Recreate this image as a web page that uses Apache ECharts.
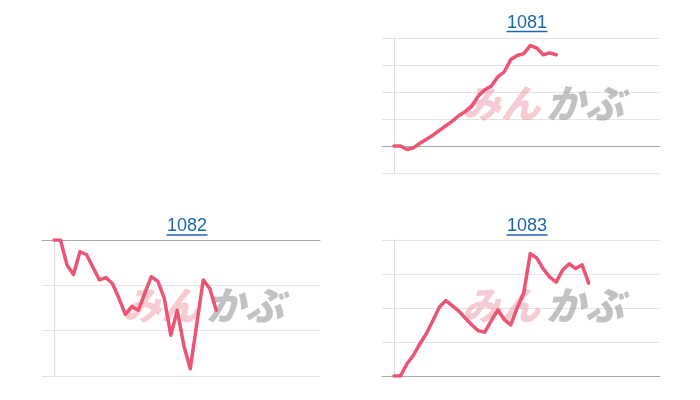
<!DOCTYPE html>
<html>
<head>
<meta charset="utf-8">
<script src="https://cdn.jsdelivr.net/npm/echarts@6/dist/echarts.min.js"></script>
<style>
html,body{margin:0;padding:0;background:#fff;}
#c{width:700px;height:400px;}
</style>
</head>
<body>
<div id="c"></div>
<script>
// Chart titles
const titles = ['1081', '1082', '1083'];
// Series values (percent change, one point per time slot)
const s1081 = [0, 0, -0.13, -0.07, 0.1, 0.25, 0.4, 0.58, 0.75, 0.92, 1.13, 1.28, 1.48, 1.85, 2.08, 2.22, 2.56, 2.75, 3.2, 3.35, 3.42, 3.72, 3.63, 3.38, 3.45, 3.38];
const s1082 = [0, 0, -0.55, -0.76, -0.26, -0.32, -0.6, -0.88, -0.83, -0.96, -1.28, -1.64, -1.47, -1.55, -1.17, -0.81, -0.91, -1.29, -2.1, -1.55, -2.32, -2.84, -1.86, -0.88, -1.07, -1.55];
const s1083 = [0, 0, 0.36, 0.61, 0.95, 1.25, 1.63, 2.03, 2.22, 2.06, 1.91, 1.7, 1.5, 1.33, 1.29, 1.63, 1.94, 1.66, 1.5, 2.01, 2.44, 3.6, 3.47, 3.15, 2.91, 2.76, 3.12, 3.3, 3.16, 3.27, 2.73];
// y-axis ranges
const yRanges = [{min: -1, max: 4}, {min: -3, max: 0}, {min: 0, max: 4}];
const slots = 41; // time slots across the x axis

const grids = [
  {left: 382, top: 38, width: 278, height: 135},
  {left: 42, top: 240, width: 278, height: 136},
  {left: 382, top: 240, width: 278, height: 136}
];
const seriesData = [s1081, s1082, s1083];
const lineColor = '#ec5473';

const chart = echarts.init(document.getElementById('c'));
const xAxes = [], yAxes = [], series = [], graphics = [];
grids.forEach((g, i) => {
  xAxes.push({
    gridIndex: i, type: 'value', min: -1.85, max: slots,
    axisLine: {show: true, onZero: true, lineStyle: {color: '#a9a9a9', width: 1}},
    axisTick: {show: false}, axisLabel: {show: false}, splitLine: {show: false}
  });
  yAxes.push({
    gridIndex: i, type: 'value', min: yRanges[i].min, max: yRanges[i].max, interval: 1,
    axisLine: {show: true, onZero: true, lineStyle: {color: '#dedede', width: 1}},
    axisTick: {show: false}, axisLabel: {show: false},
    splitLine: {show: true, lineStyle: {color: '#e4e4e4', width: 1}}
  });
  series.push({
    type: 'line', xAxisIndex: i, yAxisIndex: i, z: 5,
    data: seriesData[i].map((v, k) => [k, v]),
    showSymbol: false, symbol: 'none',
    lineStyle: {color: lineColor, width: 3.5, cap: 'round', join: 'round'}
  });
  // title + underline
  const cx = g.left + 12 + (g.width - 12) / 2;
  const ty = i === 0 ? 23 : 226.5;
  const uy = i === 0 ? 31.5 : 235;
  graphics.push({
    type: 'text', x: cx, y: ty, z: 10,
    style: {text: titles[i], fill: '#1d66ad', font: '18px "Liberation Sans", Arial, sans-serif', textAlign: 'center', textVerticalAlign: 'middle'}
  });
  graphics.push({
    type: 'line', z: 10,
    shape: {x1: cx - 20.5, y1: uy, x2: cx + 20.5, y2: uy},
    style: {stroke: '#1d66ad', lineWidth: 1.5}
  });
  // watermark
  graphics.push({
    type: 'text', x: g.left + 119, y: g.top + 65, z: 1,
    style: {text: 'みん', fill: 'rgba(235,140,155,0.45)', font: 'italic 900 39px "Noto Sans CJK JP", sans-serif', textAlign: 'center', textVerticalAlign: 'middle'}
  });
  graphics.push({
    type: 'text', x: g.left + 203, y: g.top + 65, z: 1,
    style: {text: 'かぶ', fill: 'rgba(150,150,150,0.58)', font: 'italic 900 39px "Noto Sans CJK JP", sans-serif', textAlign: 'center', textVerticalAlign: 'middle'}
  });
});

chart.setOption({
  animation: false,
  grid: grids,
  xAxis: xAxes,
  yAxis: yAxes,
  series: series,
  graphic: graphics
});
</script>
</body>
</html>
